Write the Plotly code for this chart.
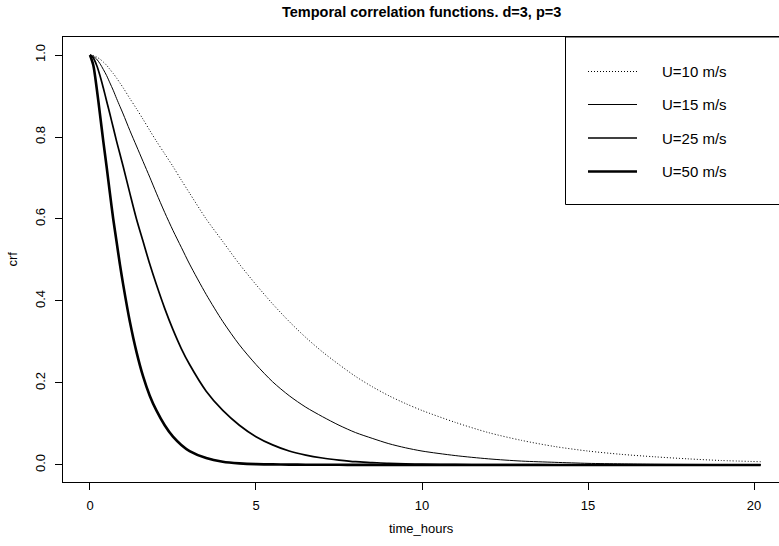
import plotly.graph_objects as go

# ---------------- data ----------------
time_hours = [0, 0.1, 0.2, 0.3, 0.4, 0.5, 0.6, 0.7, 0.8, 0.9, 1.0, 1.2, 1.4, 1.6, 1.8,
              2.0, 2.25, 2.5, 2.75, 3.0, 3.5, 4.0, 4.5, 5, 5.5, 6, 6.5, 7, 7.5, 8,
              8.5, 9, 9.5, 10, 11, 12, 13, 14, 15, 16, 17, 18, 19, 20.2]

crf_U10 = [1.000, 0.999, 0.995, 0.990, 0.983, 0.975, 0.965, 0.955, 0.944, 0.932, 0.920,
           0.894, 0.869, 0.843, 0.816, 0.790, 0.759, 0.728, 0.695, 0.663, 0.600, 0.545,
           0.490, 0.440, 0.393, 0.350, 0.311, 0.276, 0.245, 0.216, 0.191, 0.169, 0.150,
           0.133, 0.104, 0.079, 0.060, 0.045, 0.034, 0.026, 0.020, 0.015, 0.011, 0.008]

crf_U15 = [1.000, 0.997, 0.990, 0.979, 0.965, 0.950, 0.932, 0.914, 0.894, 0.875, 0.856,
           0.816, 0.778, 0.740, 0.702, 0.663, 0.616, 0.572, 0.531, 0.490, 0.416, 0.350,
           0.293, 0.245, 0.203, 0.169, 0.141, 0.118, 0.097, 0.079, 0.065, 0.052, 0.042,
           0.034, 0.023, 0.015, 0.0095, 0.0065, 0.004, 0.0028, 0.0019, 0.0014, 0.0011, 0.0009]

crf_U25 = [1.000, 0.993, 0.975, 0.950, 0.920, 0.888, 0.856, 0.823, 0.790, 0.759, 0.728,
           0.663, 0.600, 0.545, 0.490, 0.440, 0.382, 0.330, 0.284, 0.245, 0.180, 0.133,
           0.097, 0.069, 0.049, 0.034, 0.024, 0.017, 0.012, 0.008, 0.006, 0.004, 0.003,
           0.002, 0.0015, 0.001, 0.0008, 0.0006, 0.0005, 0.0004, 0.0003, 0.0002, 0.0002, 0.0001]

crf_U50 = [1.000, 0.975, 0.920, 0.856, 0.790, 0.728, 0.663, 0.600, 0.545, 0.490, 0.440,
           0.350, 0.276, 0.216, 0.169, 0.133, 0.097, 0.069, 0.049, 0.034, 0.017, 0.008,
           0.004, 0.002, 0.0015, 0.001, 0.0007, 0.0005, 0.0004, 0.0003, 0.0002, 0.0002, 0.0001,
           0.0001, 0.0001, 0.0, 0.0, 0.0, 0.0, 0.0, 0.0, 0.0, 0.0, 0.0]

legend_labels = ["U=10 m/s", "U=15 m/s", "U=25 m/s", "U=50 m/s"]
x_ticks = [0, 5, 10, 15, 20]
y_ticks = [0.0, 0.2, 0.4, 0.6, 0.8, 1.0]
y_tick_text = ["0.0", "0.2", "0.4", "0.6", "0.8", "1.0"]

title_text = "Temporal correlation functions. d=3, p=3"
x_title = "time_hours"
y_title = "crf"

# ---------------- styling ----------------
FONT = "Liberation Sans, Arial, Helvetica, sans-serif"
styles = [
    dict(width=1.0, dash="1px,2px"),
    dict(width=1.0, dash="solid"),
    dict(width=1.7, dash="solid"),
    dict(width=2.6, dash="solid"),
]
series = [crf_U10, crf_U15, crf_U25, crf_U50]

fig = go.Figure()
for vals, st, name in zip(series, styles, legend_labels):
    fig.add_trace(go.Scatter(
        x=time_hours, y=vals, mode="lines", name=name,
        line=dict(color="black", width=st["width"], dash=st["dash"], shape="spline", smoothing=0.8),
        showlegend=False, hoverinfo="skip"))

W, H = 779, 546
PL, PT, PB = 63, 37, 482          # plot-area edges in page pixels
L, T, B, R = PL, PT, H - PB, 0

fig.update_layout(
    width=W, height=H,
    margin=dict(l=L, r=R, t=T, b=B, pad=0),
    paper_bgcolor="white", plot_bgcolor="white",
    font=dict(family=FONT, size=13, color="black"),
    xaxis=dict(range=[-0.813, 20.753], tickvals=x_ticks, ticks="outside", ticklen=7,
               tickwidth=1, tickcolor="black", showline=True, linecolor="black",
               linewidth=1, mirror=True, showgrid=False, zeroline=False,
               tickfont=dict(size=13), ticklabelstandoff=4),
    yaxis=dict(range=[-0.0415, 1.0439], tickvals=y_ticks, ticktext=y_tick_text,
               ticks="outside", ticklen=7, tickwidth=1, tickcolor="black",
               showline=True, linecolor="black", linewidth=1, mirror=False,
               showgrid=False, zeroline=False, tickangle=-90,
               tickfont=dict(size=13), ticklabelstandoff=5),
)

plot_w = W - L - R
plot_h = H - T - B


def px_x(p):
    return (p - L) / plot_w


def px_y(p):
    return (H - B - p) / plot_h


# titles as annotations
fig.add_annotation(text="<b>" + title_text + "</b>", xref="paper", yref="paper",
                   x=0.5, y=px_y(12), xanchor="center", yanchor="middle",
                   showarrow=False, font=dict(size=14.5, family=FONT))
fig.add_annotation(text=x_title, xref="paper", yref="paper",
                   x=0.5, y=px_y(528), xanchor="center", yanchor="middle",
                   showarrow=False, font=dict(size=13, family=FONT))
fig.add_annotation(text=y_title, xref="paper", yref="paper",
                   x=px_x(12), y=0.5, xanchor="center", yanchor="middle",
                   textangle=-90, showarrow=False, font=dict(size=13, family=FONT))

# manual legend (R style)
fig.add_shape(type="rect", xref="paper", yref="paper",
              x0=px_x(565.5), x1=px_x(800), y0=px_y(204.5), y1=px_y(37),
              line=dict(color="black", width=1), fillcolor="white", layer="above")
legend_y = [71.5, 104.5, 138, 171.5]
for lab, st, yy in zip(legend_labels, styles, legend_y):
    fig.add_shape(type="line", xref="paper", yref="paper",
                  x0=px_x(588), x1=px_x(637), y0=px_y(yy), y1=px_y(yy),
                  line=dict(color="black", width=st["width"], dash=st["dash"]), layer="above")
    fig.add_annotation(text=lab, xref="paper", yref="paper", x=px_x(660), y=px_y(yy + 0.5),
                       xanchor="left", yanchor="middle", showarrow=False,
                       font=dict(size=15, family=FONT))

# remove the browser's default 8px body margin so the figure sits at the page origin
fig.write_html("out.html", config={"displayModeBar": False},
               post_script="document.body.style.margin='0px';")
